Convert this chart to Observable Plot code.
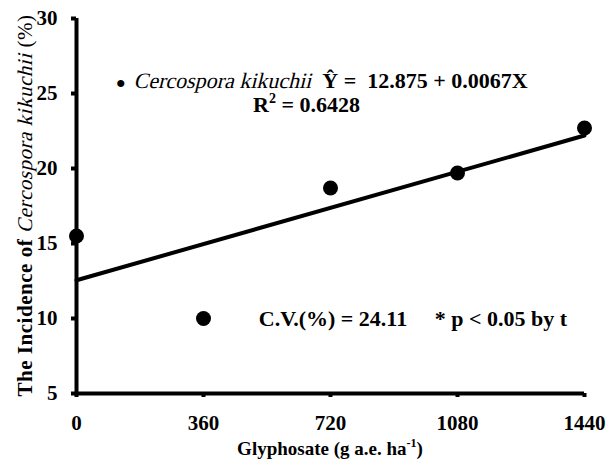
<!DOCTYPE html>
<html>
<head>
<meta charset="utf-8">
<script src="https://cdn.jsdelivr.net/npm/d3@7"></script>
<script src="https://cdn.jsdelivr.net/npm/@observablehq/plot@0.6"></script>
<style>
  html, body { margin: 0; padding: 0; background: #fff; }
  svg text { white-space: pre; }
</style>
</head>
<body>
<div id="chart"></div>
<script>
const doses = [0, 360, 720, 1080, 1440];
const incidence = [15.5, 10.0, 18.7, 19.7, 22.7];
const fitX = [0, 1440];
const fitY = [12.55, 22.2];
const xTicks = [0, 360, 720, 1080, 1440];
const yTicks = [5, 10, 15, 20, 25, 30];
const xTitle = ["Glyphosate (g a.e. ha", "-1", ")"];
const yTitle = ["The Incidence of ", "Cercospora kikuchii", " (%)"];
const eqLine = ["\u2022 ", "Cercospora kikuchii", "  \u0176 =  12.875 + 0.0067X"];
const r2Text = ["R", "2", " = 0.6428"];
const cvText = "C.V.(%) = 24.11     * p < 0.05 by t";
// annotation anchor positions in data units [x, y-baseline]
const eqPos = [112, 25.35];
const r2Pos = [502, 23.75];
const cvPos = [518, 9.45];

const points = doses.map((d, i) => ({x: d, y: incidence[i]}));
const fit = fitX.map((d, i) => ({x: d, y: fitY[i]}));

const font = "'Liberation Serif', 'Times New Roman', serif";

const plot = Plot.plot({
  width: 606,
  height: 461,
  marginLeft: 76,
  marginRight: 22,
  marginTop: 18,
  marginBottom: 68,
  style: {fontFamily: font, fontSize: "21px", fontWeight: "bold", background: "#fff", color: "#000"},
  x: {domain: [0, 1440], ticks: xTicks, label: null, tickFormat: d => String(d)},
  y: {domain: [5, 30], ticks: yTicks, label: null, tickFormat: d => String(d)},
  marks: [
    Plot.axisX({ticks: xTicks, tickSize: 4, tickPadding: 18, strokeWidth: 4, label: null, fontSize: 21, tickFormat: d => String(d)}),
    Plot.axisY({ticks: yTicks, tickSize: 5, tickPadding: 14, strokeWidth: 4, label: null, fontSize: 21, tickFormat: d => String(d)}),
    Plot.ruleX([0], {y1: 5, y2: 30, strokeWidth: 4}),
    Plot.ruleY([5], {x1: 0, x2: 1440, strokeWidth: 4}),
    Plot.line(fit, {x: "x", y: "y", stroke: "#000", strokeWidth: 4}),
    Plot.dot(points, {x: "x", y: "y", r: 7.5, fill: "#000", stroke: "none"})
  ]
});
document.getElementById("chart").appendChild(plot);

const sx = plot.scale("x"), sy = plot.scale("y");
const svg = d3.select(plot);

// rich text: segments laid out one after another; italic done by skewing regular glyphs
function richText(parent, segs, {x = 0, y = 0, anchor = "start", transform = "", fitLength = null}) {
  const outer = parent.append("g").attr("transform", transform || null);
  const g = outer.append("g");
  const made = [];
  let chars = 0;
  for (const s of segs) {
    const t = g.append("text")
      .attr("text-anchor", "start")
      .attr("font-family", font)
      .attr("font-size", s.size)
      .attr("font-weight", s.bold ? "bold" : "normal")
      .attr("fill", "#000")
      .text(s.text);
    made.push([t, s]);
    chars += s.text.length;
  }
  let ls = 0;
  if (fitLength) {
    let nat = 0;
    for (const [t] of made) nat += t.node().getComputedTextLength();
    ls = (fitLength - nat) / chars;
  }
  let cx = 0;
  for (const [t, s] of made) {
    if (ls) t.attr("letter-spacing", ls);
    const w = t.node().getComputedTextLength();
    t.attr("transform", `translate(${cx},${s.dy || 0})` + (s.italic ? " skewX(-14)" : ""));
    cx += w;
  }
  const ox = anchor === "middle" ? x - cx / 2 : x;
  g.attr("transform", `translate(${ox},${y})`);
  return cx;
}

// equation line
richText(svg, [
  {text: eqLine[0], size: 30, bold: false, dy: 6},
  {text: eqLine[1], size: 22, bold: false, italic: true},
  {text: eqLine[2], size: 22, bold: true}
], {x: sx.apply(eqPos[0]), y: sy.apply(eqPos[1])});

richText(svg, [
  {text: r2Text[0], size: 22, bold: true},
  {text: r2Text[1], size: 14, bold: true, dy: -9},
  {text: r2Text[2], size: 22, bold: true}
], {x: sx.apply(r2Pos[0]), y: sy.apply(r2Pos[1])});

richText(svg, [
  {text: cvText, size: 22, bold: true}
], {x: sx.apply(cvPos[0]), y: sy.apply(cvPos[1])});

// y title (rotated)
richText(svg, [
  {text: yTitle[0], size: 21, bold: true},
  {text: yTitle[1], size: 21, bold: false, italic: true},
  {text: yTitle[2], size: 21, bold: false}
], {x: 0, y: 7, anchor: "middle", transform: `translate(25,${(18 + 393) / 2}) rotate(-90)`, fitLength: 382});

// x title
richText(svg, [
  {text: xTitle[0], size: 19, bold: true},
  {text: xTitle[1], size: 12, bold: true, dy: -8},
  {text: xTitle[2], size: 19, bold: true}
], {x: (sx.apply(0) + sx.apply(1440)) / 2, y: 455, anchor: "middle"});
</script>
</body>
</html>
